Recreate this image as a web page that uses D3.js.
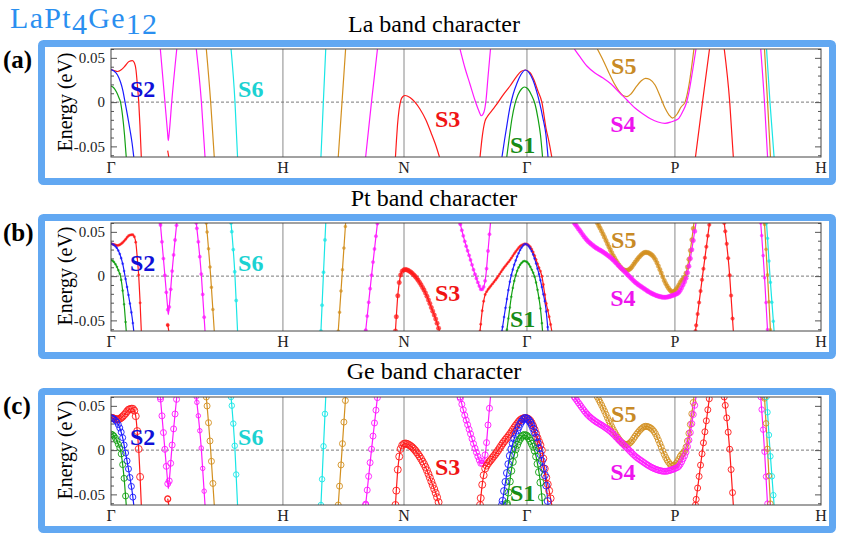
<!DOCTYPE html>
<html>
<head>
<meta charset="utf-8">
<script src="https://cdn.jsdelivr.net/npm/d3@7"></script>
<style>
  body { margin: 0; background: #fff; }
  text { font-family: "Liberation Serif", "Times New Roman", serif; }
</style>
</head>
<body>
<svg id="chart" width="841" height="538"></svg>
<script>
// high symmetry points along the k path (bcc)
const kLabels = ["Γ", "H", "N", "Γ", "P", "H"];
const kPoints = [0, 1.004, 1.711, 2.429, 3.293, 4.146];
const eMajor = [-0.05, 0, 0.05];
const eMinor = [-0.06, -0.04, -0.03, -0.02, -0.01, 0.01, 0.02, 0.03, 0.04, 0.06];
const panelTitles = ["La band character", "Pt band character", "Ge band character"];
const panelTags = ["(a)", "(b)", "(c)"];

// bands, [k, E (eV)]
const redGH = [[0, 0.0368], [0.0175, 0.0357], [0.038, 0.0346], [0.058, 0.0363], [0.082, 0.0408],
  [0.105, 0.0459], [0.1255, 0.0468], [0.137, 0.0442], [0.146, 0.0363], [0.154, 0.0193],
  [0.162, 0.0], [0.169, -0.0259], [0.177, -0.062]];
const blueGH = [[0, 0.0368], [0.0175, 0.0351], [0.038, 0.0306], [0.0555, 0.0227], [0.070, 0.0125],
  [0.082, 0.0], [0.096, -0.0146], [0.111, -0.0315], [0.123, -0.0462], [0.133, -0.062]];
const greenGH = [[0, 0.0182], [0.0146, 0.0165], [0.032, 0.0114], [0.047, 0.0046], [0.0555, 0.0],
  [0.067, -0.0146], [0.079, -0.0372], [0.089, -0.062]];
const redStub = [[0.331, -0.0548], [0.3375, -0.062]];
const magentaV = [[0.288, 0.060], [0.315, 0.0], [0.330, -0.0338], [0.3345, -0.0434],
  [0.340, -0.0349], [0.3545, 0.0], [0.384, 0.060]];
const magentaGH = [[0.498, 0.060], [0.528, 0.0], [0.549, -0.062]];
const orangeGH = [[0.5565, 0.060], [0.582, 0.0], [0.603, -0.062]];
const cyanGH = [[0.701, 0.060], [0.724, 0.0], [0.739, -0.062]];
const cyanHN = [[1.226, -0.062], [1.240, 0.0], [1.254, 0.060]];
const orangeHN = [[1.327, -0.062], [1.349, 0.0], [1.370, 0.060]];
const magentaHN = [[1.487, -0.062], [1.521, 0.0], [1.556, 0.060]];
const redN = [[1.661, -0.062], [1.667, -0.0428], [1.673, -0.0259], [1.682, -0.0089], [1.693, 0.0024],
  [1.705, 0.0063], [1.717, 0.0075], [1.746, 0.0052], [1.775, 0.0], [1.804, -0.0078],
  [1.839, -0.0202], [1.874, -0.0372], [1.898, -0.0496], [1.918, -0.062]];
const magentaU = [[2.038, 0.060], [2.067, 0.0385], [2.096, 0.0205], [2.125, 0.0024], [2.146, -0.0089],
  [2.163, -0.0154], [2.178, -0.0112], [2.190, 0.0024], [2.201, 0.0272], [2.216, 0.060]];
const redS3 = [[2.155, -0.062], [2.169, -0.0372], [2.184, -0.0214], [2.196, -0.0168], [2.222, -0.0101],
  [2.254, -0.0021], [2.289, 0.008], [2.330, 0.0182], [2.368, 0.0289], [2.394, 0.0346],
  [2.420, 0.0363], [2.447, 0.0334], [2.470, 0.025], [2.493, 0.0125], [2.516, 0.0],
  [2.540, -0.0293], [2.559, -0.0462], [2.574, -0.062]];
const blueS2 = [[2.283, -0.062], [2.298, -0.0428], [2.312, -0.0259], [2.330, -0.0055], [2.347, 0.008],
  [2.371, 0.0216], [2.394, 0.0312], [2.420, 0.0363], [2.441, 0.0334], [2.464, 0.025],
  [2.485, 0.0125], [2.502, 0.0], [2.522, -0.018], [2.540, -0.0372], [2.552, -0.062]];
const greenS1 = [[2.311, -0.062], [2.324, -0.0428], [2.341, -0.0191], [2.359, -0.0021], [2.376, 0.008],
  [2.397, 0.0148], [2.414, 0.0171], [2.435, 0.0148], [2.455, 0.008], [2.476, -0.0021],
  [2.493, -0.018], [2.508, -0.0372], [2.520, -0.062]];
const orangeS5 = [[2.840, 0.060], [2.873, 0.0476], [2.908, 0.0329], [2.937, 0.0216], [2.966, 0.0125],
  [2.990, 0.0075], [3.013, 0.0063], [3.036, 0.0092], [3.066, 0.0171], [3.095, 0.0238],
  [3.121, 0.0269], [3.147, 0.0255], [3.177, 0.0193], [3.206, 0.0069], [3.235, -0.0067],
  [3.259, -0.0146], [3.279, -0.018], [3.305, -0.0137], [3.329, -0.0055], [3.352, 0.0],
  [3.375, 0.0193], [3.404, 0.060]];
const magentaS4 = [[2.706, 0.060], [2.739, 0.051], [2.779, 0.0408], [2.826, 0.0329], [2.873, 0.0272],
  [2.920, 0.0205], [2.966, 0.0114], [3.013, 0.0024], [3.060, -0.0067], [3.107, -0.0134],
  [3.153, -0.0191], [3.194, -0.0225], [3.235, -0.024], [3.270, -0.0225], [3.293, -0.0208],
  [3.317, -0.018], [3.340, -0.0101], [3.358, -0.0021], [3.375, 0.0114], [3.395, 0.034], [3.416, 0.060]];
const redPH1 = [[3.413, -0.062], [3.454, 0.0], [3.495, 0.060]];
const redPH2 = [[3.581, 0.060], [3.613, 0.0], [3.634, -0.062]];
const magentaPH = [[3.794, 0.060], [3.816, 0.0], [3.834, -0.062]];
const orangePH = [[3.816, 0.060], [3.834, 0.0], [3.851, -0.062]];
const cyanPH = [[3.828, 0.060], [3.848, 0.0], [3.872, -0.062]];

// orbital character (relative marker size) of each band
const ptWeight = [0.4, 0.35, 0.35, 0.5, 0.55, 0.55, 0.5, 0.55, 0.55, 0.5, 0.55, 0.75,
  0.55, 0.4, 0.35, 0.35, 0.75, 0.75, 0.6, 0.6, 0.5, 0.5, 0.5];
const geWeight = [0.7, 0.6, 0.6, 0.6, 0.6, 0.45, 0.6, 0.55, 0.55, 0.6, 0.6, 0.7,
  0.6, 0.7, 0.7, 0.7, 0.6, 0.6, 0.6, 0.6, 0.55, 0.55, 0.55];

const labelNames = ["S1", "S2", "S3", "S4", "S5", "S6"];
const labelK = [2.330, 0.111, 1.892, 2.915, 2.920, 0.742];
const labelE = [-0.0575, 0.0058, -0.0281, -0.0338, 0.0318, 0.0058];

const C = { red: "#ff1a1a", blue: "#1a1aff", green: "#12a012", magenta: "#ff1aff",
  orange: "#d39020", cyan: "#1ae6e6" };
const labelColors = ["#178c17", "#1010d8", "#f01414", "#ee14ee", "#c88a26", "#1cd2d2"];

const bands = [
  [redGH, C.red], [blueGH, C.blue], [greenGH, C.green], [redStub, C.red], [magentaV, C.magenta],
  [magentaGH, C.magenta], [orangeGH, C.orange], [cyanGH, C.cyan], [cyanHN, C.cyan],
  [orangeHN, C.orange], [magentaHN, C.magenta], [redN, C.red], [magentaU, C.magenta],
  [redS3, C.red], [blueS2, C.blue], [greenS1, C.green], [orangeS5, C.orange],
  [magentaS4, C.magenta], [redPH1, C.red], [redPH2, C.red], [magentaPH, C.magenta],
  [orangePH, C.orange], [cyanPH, C.cyan]
].map((b, i) => ({ pts: b[0], color: b[1], pt: ptWeight[i], ge: geWeight[i] }));

const svg = d3.select("#chart");
const x = d3.scaleLinear().domain([0, kPoints[kPoints.length - 1]]).range([111, 821]);
const y = d3.scaleLinear().domain([-0.062, 0.06]).range([157, 49]);
const ptR = d3.scaleLinear().domain([0, 1]).range([0, 3]);
const geR = d3.scaleLinear().domain([0, 1]).range([0, 5]);
const line = d3.line().x(d => x(d[0])).y(d => y(d[1])).curve(d3.curveMonotoneX);
const dk = 0.0085; // k mesh step used for the character markers

svg.append("defs").append("clipPath").attr("id", "plotclip")
  .append("rect").attr("x", 111).attr("y", 49).attr("width", 710).attr("height", 108);

// compound name
svg.append("text").attr("x", 10).attr("y", 28).attr("font-size", 30)
  .attr("letter-spacing", 1.3).attr("fill", "#2a8ff0")
  .call(t => {
    t.append("tspan").text("LaPt");
    t.append("tspan").text("4").attr("dy", 6);
    t.append("tspan").text("Ge").attr("dy", -6);
    t.append("tspan").text("12").attr("dy", 6);
  });

panelTitles.forEach((title, p) => {
  const g = svg.append("g").attr("transform", `translate(0,${p * 174})`);

  g.append("rect").attr("x", 41.5).attr("y", 43.5).attr("width", 791).attr("height", 138)
    .attr("rx", 2).attr("fill", "#fff").attr("stroke", "#62a8f2").attr("stroke-width", 7);

  g.append("text").attr("x", 434).attr("y", 32 - p * 0.5).attr("text-anchor", "middle")
    .attr("font-size", 24).text(title);
  g.append("text").attr("x", 3).attr("y", 67.5 - p).attr("font-size", 25)
    .attr("font-weight", "bold").text(panelTags[p]);

  g.append("text").attr("transform", "translate(72,102) rotate(-90)")
    .attr("text-anchor", "middle").attr("font-size", 20).text("Energy (eV)");

  // high symmetry lines and Fermi level
  g.selectAll("line.sym").data(kPoints.slice(1, -1)).enter().append("line")
    .attr("x1", d => x(d)).attr("x2", d => x(d)).attr("y1", 49).attr("y2", 157)
    .attr("stroke", "#8a8a8a").attr("stroke-width", 1);
  g.append("line").attr("x1", 111).attr("x2", 821).attr("y1", y(0)).attr("y2", y(0))
    .attr("stroke", "#7a7a7a").attr("stroke-width", 1).attr("stroke-dasharray", "3,2");

  // axes with inward ticks
  const axL = g.append("g").attr("transform", "translate(111,0)")
    .call(d3.axisLeft(y).tickValues(eMajor).tickSize(-6).tickPadding(6)
      .tickFormat(d => d === 0 ? "0" : String(d)));
  axL.selectAll("text").attr("font-size", 15).attr("fill", "#222");
  g.append("g").attr("transform", "translate(111,0)")
    .call(d3.axisLeft(y).tickValues(eMinor).tickSize(-3).tickFormat(""));
  g.append("g").attr("transform", "translate(821,0)")
    .call(d3.axisRight(y).tickValues(eMajor).tickSize(-6).tickFormat(""));
  g.append("g").attr("transform", "translate(821,0)")
    .call(d3.axisRight(y).tickValues(eMinor).tickSize(-3).tickFormat(""));
  g.selectAll(".domain").remove();
  g.selectAll(".tick line").attr("stroke", "#555");

  g.selectAll("text.klab").data(kPoints).enter().append("text")
    .attr("x", d => x(d)).attr("y", 173).attr("text-anchor", "middle")
    .attr("font-size", 16).attr("fill", "#222").text((d, i) => kLabels[i]);

  const plot = g.append("g").attr("clip-path", "url(#plotclip)");
  const paths = plot.selectAll("path.band").data(bands).enter().append("path")
    .attr("fill", "none").attr("stroke", d => d.color).attr("stroke-width", 1.2)
    .attr("d", d => line(d.pts));

  // character markers on the k mesh, sitting on the drawn band
  if (p > 0) {
    paths.each(function (b) {
      const L = this.getTotalLength();
      const marks = [];
      let last = null;
      for (let s = 0; s <= L; s += 0.3) {
        const q = this.getPointAtLength(s);
        const idx = Math.floor(x.invert(q.x) / dk);
        if (idx !== last) { marks.push(q); last = idx; }
      }
      const r = p === 1 ? ptR(b.pt) : geR(b.ge);
      plot.selectAll(null).data(marks).enter().append("circle")
        .attr("cx", d => d.x).attr("cy", d => d.y).attr("r", r)
        .attr("fill", p === 1 ? b.color : "none")
        .attr("fill-opacity", 0.75)
        .attr("stroke", b.color).attr("stroke-width", p === 1 ? 0.3 : 0.9);
    });
  }

  g.append("rect").attr("x", 111).attr("y", 49).attr("width", 710).attr("height", 108)
    .attr("fill", "none").attr("stroke", "#444").attr("stroke-width", 1);

  g.selectAll("text.slab").data(labelNames).enter().append("text")
    .attr("x", (d, i) => x(labelK[i])).attr("y", (d, i) => y(labelE[i]))
    .attr("font-size", 24).attr("font-weight", "bold")
    .attr("fill", (d, i) => labelColors[i]).text(d => d);
});
</script>
</body>
</html>
